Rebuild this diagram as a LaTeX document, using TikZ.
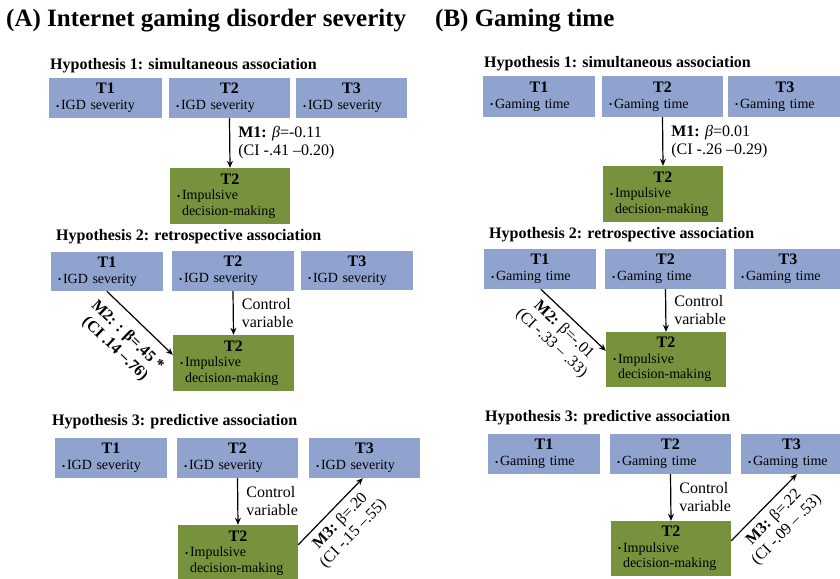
\documentclass[tikz,border=0pt]{standalone}
\usepackage{fontspec}
\setmainfont{Liberation Serif}
\usetikzlibrary{arrows.meta,calc}
\definecolor{boxblue}{RGB}{143,163,206}
\definecolor{boxgreen}{RGB}{118,146,60}
\newcommand\bul{\makebox[5pt][l]{\raisebox{0.6pt}{\fontsize{9}{9}\selectfont •}}}
\newcommand\btxt[2]{{\centering\fontsize{16}{18}\selectfont\bfseries #1\par}\bul #2}
\newcommand\gtxt{{\centering\fontsize{16}{17}\selectfont\bfseries T2\par}\bul Impulsive\\\hspace*{5pt}decision-making}
\newcommand\mkbox[7]{%
  \pgfmathsetmacro\bw{#5-#3}%
  \pgfmathsetmacro\bh{#6-#4}%
  \pgfmathsetmacro\tw{#5-#3-14}%
  \pgfmathsetmacro\cx{(#3+#5)/2}%
  \pgfmathsetmacro\cy{(#4+#6)/2}%
  \node[#1, minimum width=\bw pt, minimum height=\bh pt, text width=\tw pt] (#2) at (\cx,\cy) {#7};}
\tikzset{
  bluebox/.style={fill=boxblue, inner xsep=7pt, inner ysep=2pt, align=left, font=\fontsize{14}{16}\selectfont},
  greenbox/.style={fill=boxgreen, inner xsep=7pt, inner ysep=2pt, align=left, font=\fontsize{14}{15.5}\selectfont},
  ptitle/.style={anchor=west, inner sep=0pt, font=\fontsize{25}{30}\selectfont\bfseries},
  hyp/.style={anchor=west, inner sep=0pt, font=\fontsize{16}{18}\selectfont\bfseries},
  arr/.style={draw, line width=1.2pt, -{Stealth[length=7pt,width=6pt]}},
  lab/.style={anchor=west, xshift=7pt, align=left, inner sep=1pt, font=\fontsize{16}{18}\selectfont},
  slab/.style={sloped, align=center, inner sep=1pt, font=\fontsize{16}{18}\selectfont}
}
\begin{document}
\begin{tikzpicture}[x=1pt,y=-1pt]
\useasboundingbox (0,0) rectangle (840,578);
% titles
\node[ptitle] (ta) at (6,21) {(A) Internet gaming disorder severity};
\node[ptitle] (tb) at (435,21) {(B) Gaming time};
% ---------- Panel A ----------
\node[hyp] (ha1) at (50,66) {Hypothesis 1: simultaneous association};
\mkbox{bluebox}{a1t1}{49}{78}{162}{118}{\btxt{T1}{IGD severity}}
\mkbox{bluebox}{a1t2}{169}{78}{290}{118}{\btxt{T2}{IGD severity}}
\mkbox{bluebox}{a1t3}{296}{78}{407}{118}{\btxt{T3}{IGD severity}}
\mkbox{greenbox}{a1g}{170}{168}{290}{224}{\gtxt}
\draw[arr] (a1t2.south) -- node[lab] {\textbf{M1:} {\itshape β}=-0.11\\(CI -.41 –0.20)} (a1g.north);

\node[hyp] (ha2) at (56,237) {Hypothesis 2: retrospective association};
\mkbox{bluebox}{a2t1}{51}{252}{163}{291}{\btxt{T1}{IGD severity}}
\mkbox{bluebox}{a2t2}{172}{251}{294}{291}{\btxt{T2}{IGD severity}}
\mkbox{bluebox}{a2t3}{301}{251}{413}{290}{\btxt{T3}{IGD severity}}
\mkbox{greenbox}{a2g}{173}{335}{294}{391}{\gtxt}
\draw[arr] (a2t2.south) -- node[lab] {Control\\variable} (a2g.north);
\draw[arr] ([xshift=56pt]a2t1.south west) -- node[slab, below=9pt] {\textbf{M2: : β=.45 *}\\\textbf{(CI .14 –.76)}} ([yshift=-20pt]a2g.north west);

\node[hyp] (ha3) at (52,422) {Hypothesis 3: predictive association};
\mkbox{bluebox}{a3t1}{55}{438}{167}{478}{\btxt{T1}{IGD severity}}
\mkbox{bluebox}{a3t2}{177}{438}{298}{478}{\btxt{T2}{IGD severity}}
\mkbox{bluebox}{a3t3}{309}{438}{420}{478}{\btxt{T3}{IGD severity}}
\mkbox{greenbox}{a3g}{178}{525}{298}{581}{\gtxt}
\draw[arr] (a3t2.south) -- node[lab] {Control\\variable} (a3g.north);
\draw[arr] ([yshift=-20pt]a3g.north east) -- node[slab, below=5pt] {\textbf{M3:} β=.20\\(CI -.15 –.55)} ([xshift=54pt]a3t3.south west);

% ---------- Panel B ----------
\node[hyp] (hb1) at (484,64) {Hypothesis 1: simultaneous association};
\mkbox{bluebox}{b1t1}{483}{76}{595}{117}{\btxt{T1}{Gaming time}}
\mkbox{bluebox}{b1t2}{602}{76}{723}{117}{\btxt{T2}{Gaming time}}
\mkbox{bluebox}{b1t3}{728}{76}{842}{117}{\btxt{T3}{Gaming time}}
\mkbox{greenbox}{b1g}{603}{166}{723}{222}{\gtxt}
\draw[arr] (b1t2.south) -- node[lab] {\textbf{M1:} {\itshape β}=0.01\\(CI -.26 –0.29)} (b1g.north);

\node[hyp] (hb2) at (489,235) {Hypothesis 2: retrospective association};
\mkbox{bluebox}{b2t1}{484}{249}{596}{289}{\btxt{T1}{Gaming time}}
\mkbox{bluebox}{b2t2}{605}{249}{726}{289}{\btxt{T2}{Gaming time}}
\mkbox{bluebox}{b2t3}{734}{249}{842}{289}{\btxt{T3}{Gaming time}}
\mkbox{greenbox}{b2g}{606}{332}{726}{387}{\gtxt}
\draw[arr] (b2t2.south) -- node[lab] {Control\\variable} (b2g.north);
\draw[arr] ([xshift=57pt]b2t1.south west) -- node[slab, below=5pt] {\textbf{M2:} β=-.01\\(CI -.33 – .33)} ([yshift=-19pt]b2g.north west);

\node[hyp] (hb3) at (485,418) {Hypothesis 3: predictive association};
\mkbox{bluebox}{b3t1}{488}{434}{600}{474}{\btxt{T1}{Gaming time}}
\mkbox{bluebox}{b3t2}{610}{434}{731}{474}{\btxt{T2}{Gaming time}}
\mkbox{bluebox}{b3t3}{741}{434}{842}{474}{\btxt{T3}{Gaming time}}
\mkbox{greenbox}{b3g}{611}{521}{731}{576}{\gtxt}
\draw[arr] (b3t2.south) -- node[lab] {Control\\variable} (b3g.north);
\draw[arr] ([yshift=-20pt]b3g.north east) -- node[slab, below=5pt] {\textbf{M3:} β=.22\\(CI -.09 – .53)} ([xshift=56pt]b3t3.south west);
\end{tikzpicture}
\end{document}
